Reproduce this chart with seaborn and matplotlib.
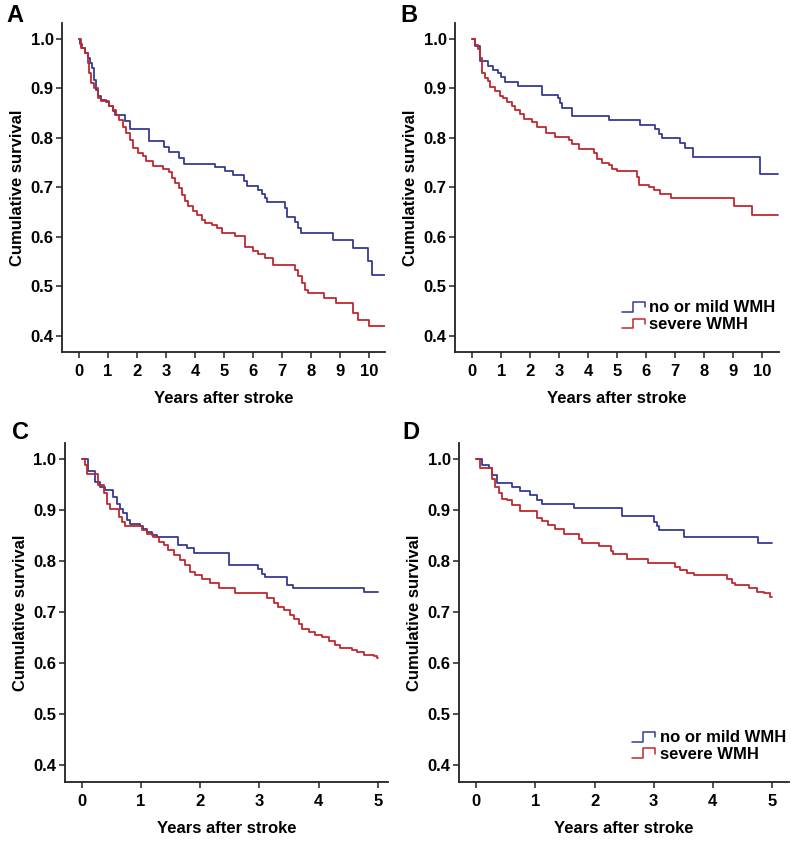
import numpy as np
import pandas as pd
import seaborn as sns
import matplotlib
matplotlib.use("Agg")
import matplotlib.pyplot as plt
from matplotlib.legend_handler import HandlerBase
from matplotlib.lines import Line2D

# Kaplan-Meier step curves (time in years, survival)
groups = ["no or mild WMH", "severe WMH"]

a_mild_t = [0, 0.05, 0.1, 0.2, 0.3, 0.38, 0.45, 0.52, 0.57, 0.66, 0.75, 0.93, 1.04, 1.16, 1.25,
            1.6, 1.77, 2.4, 2.92, 3.09, 3.44, 3.61, 4.7, 5.04, 5.32, 5.67, 5.8, 6.18, 6.3, 6.41,
            6.47, 7.1, 7.18, 7.44, 7.55, 7.66, 8.75, 9.44, 9.95, 10.1, 10.57]
a_mild_s = [1.0, 0.99, 0.98, 0.97, 0.96, 0.95, 0.94, 0.917, 0.897, 0.883, 0.875, 0.871, 0.863, 0.853, 0.846,
            0.833, 0.818, 0.793, 0.782, 0.770, 0.759, 0.747, 0.741, 0.732, 0.724, 0.712, 0.702, 0.695, 0.687, 0.678,
            0.669, 0.658, 0.64, 0.63, 0.617, 0.607, 0.594, 0.577, 0.55, 0.523, 0.523]
a_sev_t = [0, 0.07, 0.19, 0.3, 0.36, 0.41, 0.52, 0.64, 0.75, 1.04, 1.16, 1.28, 1.39, 1.51, 1.63, 1.74,
           1.86, 2.03, 2.2, 2.31, 2.54, 2.89, 3.09, 3.2, 3.31, 3.43, 3.54, 3.66, 3.77, 3.94, 4.06, 4.23,
           4.34, 4.57, 4.74, 4.92, 5.38, 5.72, 6.0, 6.17, 6.4, 6.7, 7.45, 7.56, 7.68, 7.79, 7.9, 8.45,
           8.86, 9.44, 9.6, 10.0, 10.57]
a_sev_s = [1.0, 0.981, 0.971, 0.951, 0.931, 0.91, 0.9, 0.88, 0.873, 0.863, 0.856, 0.846, 0.836, 0.822, 0.809, 0.795,
           0.778, 0.768, 0.762, 0.752, 0.742, 0.737, 0.730, 0.718, 0.708, 0.698, 0.685, 0.671, 0.661, 0.651, 0.644, 0.634,
           0.628, 0.624, 0.617, 0.607, 0.601, 0.58, 0.570, 0.564, 0.557, 0.543, 0.533, 0.52, 0.506, 0.493, 0.486, 0.476,
           0.466, 0.446, 0.432, 0.419, 0.419]

b_mild_t = [0, 0.1, 0.28, 0.56, 0.73, 0.9, 1.01, 1.13, 1.59, 2.42, 2.95, 3.03, 3.09, 3.43, 4.72,
            5.79, 6.31, 6.43, 6.54, 7.17, 7.34, 7.63, 9.93, 10.56]
b_mild_s = [1.0, 0.984, 0.954, 0.945, 0.937, 0.931, 0.922, 0.913, 0.905, 0.887, 0.880, 0.870, 0.86, 0.844, 0.836,
            0.826, 0.818, 0.808, 0.799, 0.789, 0.779, 0.761, 0.727, 0.727]
b_sev_t = [0, 0.08, 0.2, 0.28, 0.33, 0.44, 0.56, 0.62, 0.79, 0.97, 1.08, 1.2, 1.37, 1.49, 1.66, 1.78,
           2.07, 2.24, 2.53, 2.87, 3.33, 3.45, 3.7, 4.2, 4.31, 4.48, 4.71, 4.83, 5.0, 5.69, 5.75, 6.1,
           6.26, 6.49, 6.87, 9.02, 9.66, 10.56]
b_sev_s = [1.0, 0.988, 0.978, 0.961, 0.931, 0.921, 0.915, 0.902, 0.895, 0.885, 0.88, 0.872, 0.864, 0.855, 0.848, 0.838,
           0.832, 0.822, 0.81, 0.802, 0.795, 0.788, 0.777, 0.768, 0.757, 0.749, 0.744, 0.737, 0.732, 0.72, 0.705, 0.70,
           0.694, 0.687, 0.677, 0.661, 0.644, 0.644]

c_mild_t = [0, 0.11, 0.23, 0.31, 0.39, 0.53, 0.59, 0.65, 0.7, 0.76, 0.82, 0.99, 1.04, 1.1, 1.18, 1.27,
            1.63, 1.77, 1.89, 2.48, 2.98, 3.04, 3.1, 3.46, 3.57, 4.76, 5.0]
c_mild_s = [1.0, 0.978, 0.956, 0.946, 0.939, 0.926, 0.913, 0.903, 0.894, 0.881, 0.874, 0.869, 0.864, 0.858, 0.851, 0.847,
            0.832, 0.825, 0.817, 0.792, 0.784, 0.775, 0.77, 0.753, 0.747, 0.739, 0.739]
c_sev_t = [0, 0.06, 0.08, 0.28, 0.37, 0.42, 0.48, 0.62, 0.68, 0.73, 1.01, 1.1, 1.21, 1.3, 1.38, 1.46,
           1.55, 1.66, 1.75, 1.83, 1.91, 2.03, 2.17, 2.31, 2.59, 3.13, 3.24, 3.32, 3.41, 3.52, 3.58,
           3.66, 3.72, 3.83, 3.94, 4.05, 4.17, 4.28, 4.36, 4.56, 4.65, 4.76, 4.93, 4.98, 5.0]
c_sev_s = [1.0, 0.988, 0.972, 0.949, 0.933, 0.913, 0.903, 0.887, 0.877, 0.869, 0.861, 0.854, 0.847, 0.838, 0.832, 0.822,
           0.812, 0.802, 0.792, 0.779, 0.773, 0.766, 0.757, 0.747, 0.738, 0.727, 0.719, 0.711, 0.704, 0.695, 0.686,
           0.677, 0.668, 0.662, 0.655, 0.651, 0.644, 0.636, 0.629, 0.626, 0.621, 0.617, 0.614, 0.611, 0.611]

d_mild_t = [0, 0.1, 0.21, 0.26, 0.35, 0.6, 0.74, 0.91, 1.03, 1.11, 1.65, 2.46, 3.0, 3.06, 3.09,
            3.51, 4.77, 5.0]
d_mild_s = [1.0, 0.988, 0.982, 0.969, 0.954, 0.946, 0.937, 0.93, 0.92, 0.913, 0.905, 0.888, 0.877, 0.869, 0.861,
            0.847, 0.835, 0.835]
d_sev_t = [0, 0.07, 0.26, 0.32, 0.38, 0.43, 0.52, 0.6, 0.74, 1.03, 1.11, 1.22, 1.34, 1.48, 1.73,
           1.79, 2.07, 2.27, 2.32, 2.55, 2.91, 3.36, 3.45, 3.56, 3.68, 4.24, 4.32, 4.38, 4.61, 4.75,
           4.86, 4.96, 5.0]
d_sev_s = [1.0, 0.983, 0.962, 0.946, 0.933, 0.923, 0.92, 0.91, 0.899, 0.885, 0.879, 0.871, 0.864, 0.854, 0.843,
           0.835, 0.83, 0.82, 0.815, 0.805, 0.797, 0.789, 0.783, 0.776, 0.773, 0.766, 0.758, 0.753, 0.747, 0.74,
           0.737, 0.73, 0.73]

y_ticks = [0.4, 0.5, 0.6, 0.7, 0.8, 0.9, 1.0]
x_ticks_long = list(range(0, 11))
x_ticks_short = list(range(0, 6))

palette = {"no or mild WMH": "#353b93", "severe WMH": "#c0282e"}


def make_df(mild_t, mild_s, sev_t, sev_s):
    return pd.concat([
        pd.DataFrame({"time": mild_t, "surv": mild_s, "group": groups[0]}),
        pd.DataFrame({"time": sev_t, "surv": sev_s, "group": groups[1]}),
    ], ignore_index=True)


class StepHandler(HandlerBase):
    # little step glyph used as the legend key
    def create_artists(self, legend, orig_handle, xdescent, ydescent, width, height, fontsize, trans):
        xs = np.array([0, 0.45, 0.45, 0.92, 0.92]) * width - xdescent
        ys = np.array([0.05, 0.05, 0.9, 0.9, 0.45]) * height - ydescent
        ln = Line2D(xs, ys, color=orig_handle.get_color(), lw=1.1)
        ln.set_transform(trans)
        return [ln]


sns.set_style("ticks")
plt.rcParams["font.family"] = ["Liberation Sans", "DejaVu Sans"]
plt.rcParams["font.weight"] = "bold"
plt.rcParams["text.color"] = "black"
plt.rcParams["axes.labelcolor"] = "black"
plt.rcParams["xtick.color"] = "black"
plt.rcParams["ytick.color"] = "black"

fig = plt.figure(figsize=(8, 8.42), dpi=100)

panels = [
    ("A", make_df(a_mild_t, a_mild_s, a_sev_t, a_sev_s), [0.0775, 0.582, 0.404, 0.391], (-0.586, 10.55), x_ticks_long, False),
    ("B", make_df(b_mild_t, b_mild_s, b_sev_t, b_sev_s), [0.569, 0.582, 0.405, 0.391], (-0.586, 10.59), x_ticks_long, True),
    ("C", make_df(c_mild_t, c_mild_s, c_sev_t, c_sev_s), [0.081, 0.0713, 0.404, 0.4026], (-0.287, 5.17), x_ticks_short, False),
    ("D", make_df(d_mild_t, d_mild_s, d_sev_t, d_sev_s), [0.574, 0.0713, 0.4125, 0.4026], (-0.287, 5.29), x_ticks_short, True),
]
letter_pos = {"A": (0.008, 0.995), "B": (0.5, 0.995), "C": (0.015, 0.5), "D": (0.503, 0.5)}

for letter, df, rect, xlim, xticks, show_legend in panels:
    ax = fig.add_axes(rect)
    sns.lineplot(data=df, x="time", y="surv", hue="group", palette=palette,
                 estimator=None, drawstyle="steps-post", linewidth=1.3, ax=ax, legend=show_legend)
    ax.set_xlim(*xlim)
    ax.set_ylim(0.367, 1.032)
    ax.set_xticks(xticks)
    ax.set_yticks(y_ticks)
    ax.set_yticklabels([f"{v:.1f}" for v in y_ticks])
    ax.tick_params(labelsize=12, length=4, width=1.1, color="#222222")
    ax.tick_params(axis="x", pad=5)
    ax.tick_params(axis="y", pad=2)
    for lab in ax.get_xticklabels() + ax.get_yticklabels():
        lab.set_fontweight("bold")
    ax.set_xlabel("Years after stroke", fontsize=12, fontweight="bold", labelpad=8)
    ax.set_ylabel("Cumulative survival", fontsize=12, fontweight="bold", labelpad=4)
    sns.despine(ax=ax)
    for sp in ("left", "bottom"):
        ax.spines[sp].set_linewidth(1.3)
        ax.spines[sp].set_color("#222222")
    if show_legend:
        handles, labels = ax.get_legend_handles_labels()
        ax.legend(handles, labels, loc="lower right", bbox_to_anchor=(1.02, 0.03), frameon=False,
                  handler_map={h: StepHandler() for h in handles},
                  prop={"size": 12, "weight": "bold"}, handlelength=1.5, handletextpad=0.15,
                  labelspacing=0.1, borderaxespad=0.2)
    lx, ly = letter_pos[letter]
    fig.text(lx, ly, letter, fontsize=17, fontweight="bold", ha="left", va="top")

fig.savefig("out.png", dpi=100)
